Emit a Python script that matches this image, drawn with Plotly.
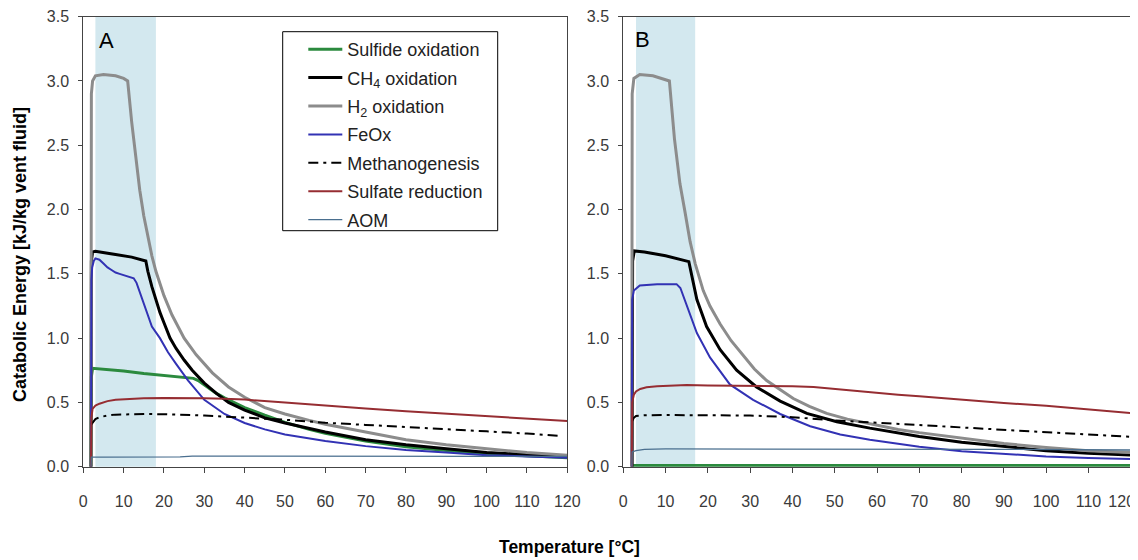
import plotly.graph_objects as go

# ---------------- Data ----------------
# Panel A
T_sulf_A = [1.9, 2.0, 2.3, 5, 10, 15, 20, 25, 27.3, 28.5, 30, 31.5, 33, 35, 37, 40, 45, 50, 56, 60, 70, 80, 90, 100, 110, 120]
sulf_A   = [0, 0.70, 0.765, 0.76, 0.745, 0.725, 0.71, 0.695, 0.687, 0.67, 0.635, 0.60, 0.57, 0.535, 0.505, 0.46, 0.40, 0.345, 0.29, 0.26, 0.20, 0.155, 0.125, 0.10, 0.085, 0.07]

T_ch4_A = [1.9, 2.0, 2.3, 3, 8, 12, 15.5, 16, 17, 18, 19, 20, 21.5, 23, 25, 27, 30, 33, 36, 40, 45, 50, 56, 60, 70, 80, 90, 100, 110, 120]
ch4_A   = [0, 1.6, 1.67, 1.675, 1.65, 1.63, 1.6, 1.52, 1.40, 1.29, 1.20, 1.12, 1.0, 0.92, 0.83, 0.75, 0.65, 0.57, 0.50, 0.44, 0.38, 0.34, 0.295, 0.27, 0.21, 0.17, 0.14, 0.11, 0.095, 0.08]

T_h2_A = [1.9, 2.0, 2.3, 3, 5, 8, 10, 11, 12, 13, 14, 15, 16, 17, 18, 20, 22, 25, 28, 32, 36, 40, 45, 50, 56, 60, 70, 80, 90, 100, 110, 120]
h2_A   = [0, 2.9, 3.0, 3.04, 3.05, 3.04, 3.02, 3.0, 2.68, 2.40, 2.15, 1.95, 1.78, 1.64, 1.52, 1.33, 1.18, 1.0, 0.87, 0.73, 0.62, 0.54, 0.46, 0.41, 0.36, 0.33, 0.27, 0.21, 0.17, 0.14, 0.11, 0.09]

T_fe_A = [1.9, 2.0, 2.2, 2.6, 3.0, 4, 5, 6, 7, 8, 9, 10, 11, 12.5, 13.2, 14, 15, 16, 17, 19, 21, 23, 26, 30, 35, 40, 45, 50, 56, 60, 70, 80, 90, 100, 110, 120]
fe_A   = [0, 1.45, 1.55, 1.6, 1.62, 1.61, 1.58, 1.55, 1.53, 1.51, 1.5, 1.49, 1.48, 1.465, 1.43, 1.36, 1.26, 1.17, 1.09, 1.0, 0.89, 0.80, 0.67, 0.52, 0.41, 0.34, 0.29, 0.25, 0.22, 0.20, 0.16, 0.13, 0.11, 0.09, 0.08, 0.07]

T_meth_A = [2.0, 2.5, 3, 4, 6, 8, 12, 16, 20, 25, 30, 35, 40, 45, 50, 56, 60, 70, 80, 90, 100, 110, 118]
meth_A   = [0.33, 0.35, 0.37, 0.385, 0.398, 0.405, 0.41, 0.41, 0.408, 0.405, 0.398, 0.39, 0.383, 0.375, 0.365, 0.352, 0.342, 0.325, 0.31, 0.29, 0.275, 0.258, 0.24]

T_sred_A = [1.9, 2.0, 2.3, 3, 4, 5, 6, 8, 10, 12, 15, 20, 25, 30, 35, 40, 50, 60, 70, 80, 90, 100, 110, 120]
sred_A   = [0, 0.38, 0.45, 0.475, 0.49, 0.50, 0.51, 0.52, 0.525, 0.53, 0.532, 0.535, 0.535, 0.532, 0.528, 0.522, 0.50, 0.475, 0.452, 0.432, 0.412, 0.393, 0.374, 0.355]

T_aom_A = [1.9, 2.0, 5, 10, 20, 24, 27, 40, 60, 80, 100, 120]
aom_A   = [0, 0.075, 0.075, 0.075, 0.075, 0.076, 0.082, 0.082, 0.082, 0.082, 0.081, 0.08]

# Panel B
T_sulf_B = [2.0, 120]
sulf_B   = [0.005, 0.005]

T_ch4_B = [2.1, 2.2, 2.6, 5, 10, 15.5, 17.4, 19.7, 22.9, 26.8, 31.5, 37.1, 43.4, 50.5, 58.3, 65, 70, 80, 90, 100, 110, 120]
ch4_B   = [0, 1.6, 1.678, 1.67, 1.64, 1.595, 1.3, 1.09, 0.91, 0.75, 0.62, 0.51, 0.415, 0.35, 0.30, 0.26, 0.235, 0.19, 0.155, 0.125, 0.105, 0.09]

T_h2_B = [2.0, 2.1, 2.5, 3.9, 7, 9, 10.9, 12.1, 13.4, 14.6, 15.8, 17, 18.9, 20.5, 22.9, 25.5, 28.4, 31, 33.9, 37, 40.2, 44, 48.1, 53, 58.3, 65, 70, 80, 90, 100, 110, 120]
h2_B   = [0, 2.9, 3.02, 3.05, 3.04, 3.02, 3.0, 2.55, 2.2, 1.98, 1.75, 1.58, 1.37, 1.25, 1.11, 0.98, 0.86, 0.76, 0.67, 0.60, 0.53, 0.47, 0.415, 0.37, 0.335, 0.29, 0.265, 0.22, 0.18, 0.15, 0.125, 0.11]

T_fe_B = [2.0, 2.1, 2.5, 3.9, 8, 12.6, 13.5, 15, 17.4, 20.5, 25.2, 30.7, 37.1, 44.2, 51.3, 58.3, 70, 80, 90, 100, 110, 120]
fe_B   = [0, 1.3, 1.37, 1.41, 1.42, 1.42, 1.39, 1.25, 1.04, 0.85, 0.64, 0.52, 0.41, 0.315, 0.25, 0.21, 0.155, 0.12, 0.10, 0.08, 0.068, 0.06]

T_meth_B = [2.0, 2.5, 3, 5, 10, 20, 30, 40, 50, 60, 70, 80, 90, 100, 110, 120]
meth_B   = [0.35, 0.38, 0.395, 0.40, 0.402, 0.402, 0.398, 0.385, 0.36, 0.342, 0.324, 0.306, 0.287, 0.27, 0.25, 0.232]

T_sred_B = [2.0, 2.1, 2.5, 3, 4, 5.5, 8, 12, 15, 20, 30, 40, 45, 50, 58, 65, 70, 80, 90, 100, 110, 120]
sred_B   = [0, 0.5, 0.56, 0.585, 0.605, 0.618, 0.625, 0.63, 0.635, 0.632, 0.63, 0.625, 0.62, 0.605, 0.578, 0.56, 0.548, 0.52, 0.495, 0.475, 0.447, 0.418]

T_aom_B = [2.0, 2.1, 3, 5, 10, 30, 60, 90, 120]
aom_B   = [0, 0.115, 0.125, 0.135, 0.138, 0.138, 0.137, 0.135, 0.13]

# Shaded temperature windows
shade_A = [3, 18]
shade_B = [3, 17]

x_ticks = list(range(0, 121, 10))
x_ticktext = [str(v) for v in x_ticks]
y_ticks = [0.0, 0.5, 1.0, 1.5, 2.0, 2.5, 3.0, 3.5]

# ---------------- Styles ----------------
names = ["Sulfide oxidation", "CH<sub>4</sub> oxidation", "H<sub>2</sub> oxidation", "FeOx",
         "Methanogenesis", "Sulfate reduction", "AOM"]
styles = [
    dict(color="#2b8a3e", width=3),
    dict(color="#000000", width=3),
    dict(color="#8c8c8c", width=3),
    dict(color="#3232b4", width=2),
    dict(color="#000000", width=2, dash="10px,5px,3px,5px"),
    dict(color="#962d32", width=2),
    dict(color="#4a6f8f", width=1.3),
]
panelA = [(T_sulf_A, sulf_A), (T_ch4_A, ch4_A), (T_h2_A, h2_A), (T_fe_A, fe_A),
          (T_meth_A, meth_A), (T_sred_A, sred_A), (T_aom_A, aom_A)]
panelB = [(T_sulf_B, sulf_B), (T_ch4_B, ch4_B), (T_h2_B, h2_B), (T_fe_B, fe_B),
          (T_meth_B, meth_B), (T_sred_B, sred_B), (T_aom_B, aom_B)]

fig = go.Figure()
for i, (name, st, (tx, ty)) in enumerate(zip(names, styles, panelA)):
    fig.add_trace(go.Scatter(x=tx, y=ty, mode="lines", name=name, line=st,
                             legendgroup=f"g{i}", showlegend=True, xaxis="x", yaxis="y"))
for i, (name, st, (tx, ty)) in enumerate(zip(names, styles, panelB)):
    stB = dict(st, width=4) if i == 0 else st  # the zero sulfide line in B is drawn heavier
    fig.add_trace(go.Scatter(x=tx, y=ty, mode="lines", name=name, line=stB,
                             legendgroup=f"g{i}", showlegend=False, xaxis="x2", yaxis="y2"))
# empty helper trace so the overlay axis (last tick label of panel B) is drawn
fig.add_trace(go.Scatter(x=[], y=[], mode="lines", showlegend=False, hoverinfo="skip",
                         xaxis="x3", yaxis="y2"))

# The page body adds an 8px offset; lay the figure out in page pixels minus that offset.
OFF = 8
W, H = 1138 - OFF, 560 - OFF


def px(x):
    return (x - OFF) / W


def py(y):
    return 1 - (y - OFF) / H


ydom = [py(466.7), py(16.7)]
xdomA = [px(83.3), px(567.3)]
xdomB = [px(623.3), px(1130.7)]

shade_color = "#d3e8ef"
fig.add_shape(type="rect", xref="x", yref="y domain", x0=shade_A[0], x1=shade_A[1], y0=0, y1=1,
              fillcolor=shade_color, line_width=0, layer="below")
fig.add_shape(type="rect", xref="x2", yref="y2 domain", x0=shade_B[0], x1=shade_B[1], y0=0, y1=1,
              fillcolor=shade_color, line_width=0, layer="below")
# legend frame
fig.add_shape(type="rect", xref="paper", yref="paper",
              x0=px(282.7), x1=px(497.7), y0=py(230.7), y1=py(31.7),
              fillcolor="white", line=dict(color="#000", width=1), layer="above")

tickfont = dict(family="Liberation Sans, Arial, sans-serif", size=16, color="#3a3a3a")
xcommon = dict(range=[0, 120], ticks="outside", ticklen=5, tickcolor="#444",
               showgrid=False, zeroline=False, tickfont=tickfont, ticklabelstandoff=15,
               automargin=False, ticklabeloverflow="allow")
ycommon = dict(range=[0, 3.5], tickvals=y_ticks, tickformat=".1f", ticks="outside", ticklen=4,
               tickcolor="#444", showline=True, linecolor="#444", linewidth=1, mirror=True,
               showgrid=False, zeroline=False, tickfont=tickfont, ticklabelstandoff=6,
               automargin=False)

fig.update_layout(
    width=W, height=H,
    margin=dict(l=0, r=0, t=0, b=0, autoexpand=False),
    paper_bgcolor="white", plot_bgcolor="white",
    font=dict(family="Liberation Sans, Arial, sans-serif", color="#000"),
    xaxis=dict(domain=xdomA, anchor="y", tickvals=x_ticks, ticktext=x_ticktext,
               showline=True, linecolor="#444", linewidth=1, mirror=True, **xcommon),
    yaxis=dict(domain=ydom, anchor="x", **ycommon),
    xaxis2=dict(domain=xdomB, anchor="y2", tickvals=x_ticks,
                ticktext=x_ticktext[:-1] + [""],
                showline=True, linecolor="#444", linewidth=1, mirror=True, **xcommon),
    xaxis3=dict(domain=xdomB, anchor="y2", overlaying="x2", tickvals=x_ticks[-1:],
                ticktext=x_ticktext[-1:], showline=False, ticklabelshift=-9, **xcommon),
    yaxis2=dict(domain=ydom, anchor="x2", **ycommon),
    legend=dict(x=px(303.3), y=py(31), xanchor="left", yanchor="top",
                bgcolor="rgba(0,0,0,0)", borderwidth=0,
                font=dict(family="Liberation Sans, Arial, sans-serif", size=18, color="#222"),
                tracegroupgap=2, itemwidth=34),
    showlegend=True,
)

fig.add_annotation(text="A", xref="x domain", yref="y domain", x=0.047, y=0.948,
                   showarrow=False, font=dict(size=22, color="#000"), xanchor="center", yanchor="middle")
fig.add_annotation(text="B", xref="x2 domain", yref="y2 domain", x=0.038, y=0.950,
                   showarrow=False, font=dict(size=22, color="#000"), xanchor="center", yanchor="middle")
fig.add_annotation(text="<b>Temperature [°C]</b>", xref="paper", yref="paper",
                   x=px(569), y=py(547), showarrow=False, xanchor="center", yanchor="middle",
                   font=dict(size=17.5, color="#000"))
fig.add_annotation(text="<b>Catabolic Energy [kJ/kg vent fluid]</b>", xref="paper", yref="paper",
                   x=px(20), y=py(255), showarrow=False, xanchor="center", yanchor="middle",
                   textangle=-90, font=dict(size=18, color="#000"))

fig.write_html("out.html")
